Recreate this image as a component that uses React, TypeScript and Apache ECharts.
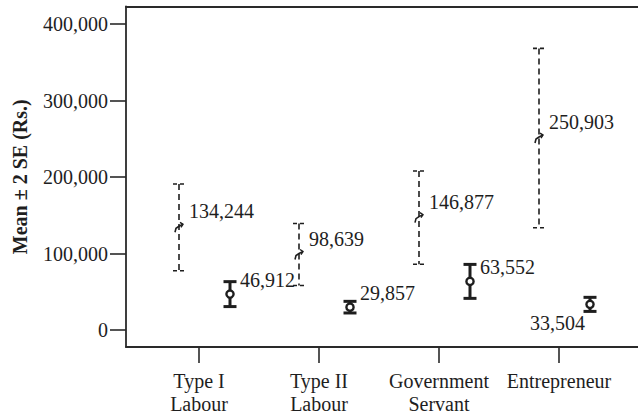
import React, { useEffect, useRef } from "react";
import * as echarts from "echarts";

const categories = ["Type I\nLabour", "Type II\nLabour", "Government\nServant", "Entrepreneur"];
// Dashed series (upper group): means and ±2 SE half-widths
const dashedMeans = [134244, 98639, 146877, 250903];
const dashedHalf = [56700, 40500, 61000, 117200];
// Solid series (lower group): means and ±2 SE half-widths
const solidMeans = [46912, 29857, 63552, 33504];
const solidHalf = [16300, 7600, 22200, 9200];
const yTickValues = [0, 100000, 200000, 300000, 400000];
const xTickValues = [1, 2, 3, 4];

const INK = "#1e1e1e";
const AXIS = "#2a2a2a";
const SERIF = "Liberation Serif";

const fmt = (v: number) => v.toLocaleString("en-US");

function buildData(means: number[], half: number[]) {
  return means.map((m, i) => [i + 1, m, m - half[i], m + half[i]]);
}

export default function App() {
  const ref = useRef<HTMLDivElement>(null);
  useEffect(() => {
    if (!ref.current) return;
    const chart = echarts.init(ref.current, null, { renderer: "svg" });

    const textStyle = (text: string, x: number, y: number, align: string) => ({
      type: "text",
      style: {
        text,
        x,
        y,
        fontFamily: SERIF,
        fontSize: 20,
        fill: INK,
        align,
        verticalAlign: "middle",
      },
    });

    const renderDashed = (params: any, api: any) => {
      const xv = api.value(0);
      const c = api.coord([xv, api.value(1)]);
      const lo = api.coord([xv, api.value(2)]);
      const hi = api.coord([xv, api.value(3)]);
      const x = c[0] - 20;
      const y = c[1];
      const dash = { stroke: INK, lineWidth: 1.6, lineDash: [6, 4] };
      return {
        type: "group",
        children: [
          { type: "line", shape: { x1: x, y1: hi[1], x2: x, y2: lo[1] }, style: dash },
          { type: "line", shape: { x1: x - 6, y1: hi[1], x2: x + 6, y2: hi[1] }, style: { ...dash, lineDash: [4, 3] } },
          { type: "line", shape: { x1: x - 6, y1: lo[1], x2: x + 6, y2: lo[1] }, style: { ...dash, lineDash: [4, 3] } },
          {
            type: "polyline",
            shape: { points: [[x - 4, y + 5], [x - 3, y + 1], [x, y - 1], [x + 4, y - 3]] },
            style: { stroke: INK, lineWidth: 1.6, fill: "none" },
          },
          {
            type: "polyline",
            shape: { points: [[x + 1, y - 5], [x + 4, y - 3], [x + 2, y]] },
            style: { stroke: INK, lineWidth: 1.4, fill: "none" },
          },
          textStyle(fmt(api.value(1)), x + 10, y - 16, "left"),
        ],
      };
    };

    const renderSolid = (params: any, api: any) => {
      const xv = api.value(0);
      const c = api.coord([xv, api.value(1)]);
      const lo = api.coord([xv, api.value(2)]);
      const hi = api.coord([xv, api.value(3)]);
      const x = c[0] + 31;
      const y = c[1];
      const last = params.dataIndex === params.dataInsideLength - 1;
      const st = { stroke: INK, lineWidth: 3 };
      return {
        type: "group",
        children: [
          { type: "line", shape: { x1: x, y1: hi[1], x2: x, y2: lo[1] }, style: st },
          { type: "line", shape: { x1: x - 6.5, y1: hi[1], x2: x + 6.5, y2: hi[1] }, style: st },
          { type: "line", shape: { x1: x - 6.5, y1: lo[1], x2: x + 6.5, y2: lo[1] }, style: st },
          {
            type: "circle",
            shape: { cx: x, cy: y, r: 3.6 },
            style: { stroke: INK, lineWidth: 2.4, fill: "#fff" },
          },
          last
            ? textStyle(fmt(api.value(1)), x - 5, y + 19, "right")
            : textStyle(fmt(api.value(1)), x + 10, y - 14, "left"),
        ],
      };
    };

    const xMin = 1 - 73 / 120;
    const xMax = 4.8;

    const option: any = {
      animation: false,
      textStyle: { fontFamily: SERIF },
      grid: {
        left: 126,
        top: 6.5,
        width: 529,
        height: 340.5,
        show: false,
        containLabel: false,
        outerBoundsMode: "none",
      },
      xAxis: [
        {
          type: "value",
          min: xMin,
          max: xMax,
          axisLine: { show: true, onZero: false, lineStyle: { color: AXIS, width: 1.8 } },
          axisTick: { show: true, length: 16, customValues: xTickValues, lineStyle: { color: AXIS, width: 1.6 } },
          axisLabel: {
            customValues: xTickValues,
            formatter: (v: number) => categories[Math.round(v) - 1] ?? "",
            fontFamily: SERIF,
            fontSize: 20,
            color: INK,
            lineHeight: 23.5,
            margin: 22,
          },
          splitLine: { show: false },
        },
        {
          type: "value",
          position: "top",
          min: xMin,
          max: xMax,
          axisLine: { show: true, onZero: false, lineStyle: { color: AXIS, width: 1.8 } },
          axisTick: { show: false },
          axisLabel: { show: false },
          splitLine: { show: false },
        },
      ],
      yAxis: {
        type: "value",
        min: -22222,
        max: 422876,
        name: "Mean ± 2 SE (Rs.)",
        nameLocation: "middle",
        nameRotate: 90,
        nameGap: 96,
        nameTextStyle: {
          fontFamily: SERIF,
          fontWeight: "bold",
          fontSize: 20,
          color: INK,
        },
        axisLine: { show: true, onZero: false, lineStyle: { color: AXIS, width: 1.8 } },
        axisTick: { show: true, length: 16, customValues: yTickValues, lineStyle: { color: AXIS, width: 1.6 } },
        axisLabel: {
          customValues: yTickValues,
          formatter: (v: number) => fmt(v),
          fontFamily: SERIF,
          fontSize: 20,
          color: INK,
          margin: 18,
        },
        splitLine: { show: false },
      },
      series: [
        {
          type: "custom",
          name: "dashed",
          renderItem: renderDashed,
          encode: { x: 0, y: [1, 2, 3] },
          data: buildData(dashedMeans, dashedHalf),
          clip: false,
        },
        {
          type: "custom",
          name: "solid",
          renderItem: renderSolid,
          encode: { x: 0, y: [1, 2, 3] },
          data: buildData(solidMeans, solidHalf),
          clip: false,
        },
      ],
    };
    chart.setOption(option);
    return () => chart.dispose();
  }, []);
  return (
    <div
      style={{ position: "fixed", left: 0, top: 0, width: 638, height: 417, overflow: "hidden", background: "#fff" }}
    >
      <div ref={ref} style={{ width: 680, height: 417 }} />
    </div>
  );
}
